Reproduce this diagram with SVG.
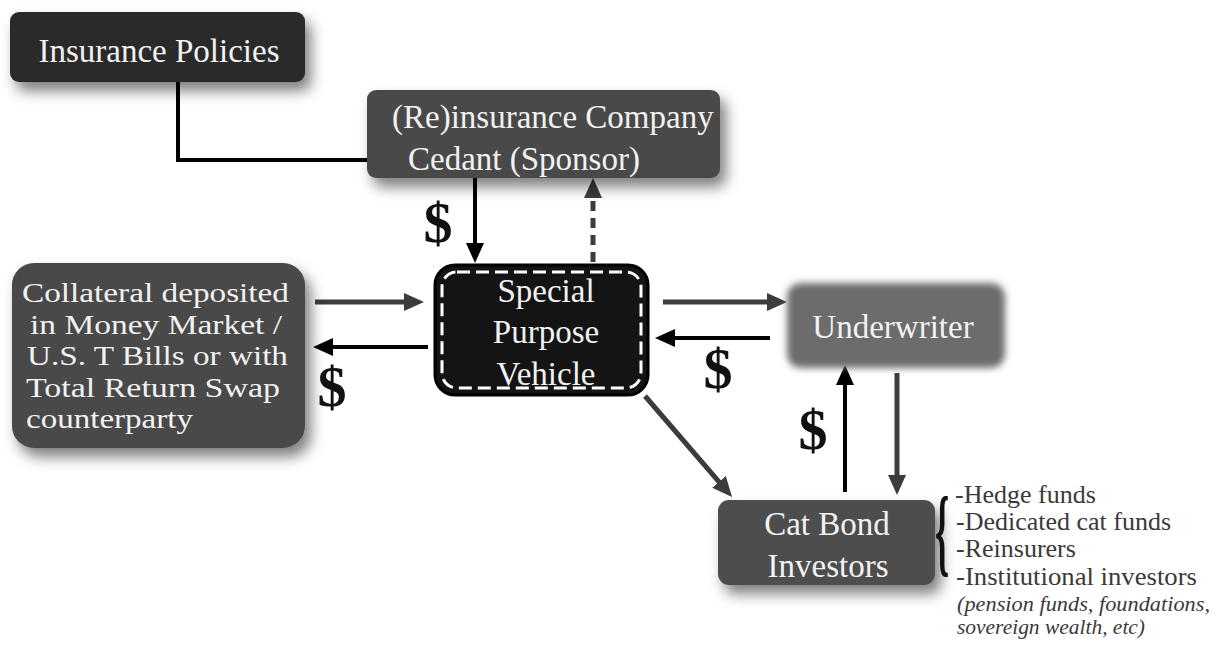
<svg xmlns="http://www.w3.org/2000/svg" width="1220" height="650" viewBox="0 0 1220 650">
<style>
.t{font-family:"Liberation Serif","Times New Roman",serif;font-size:33px;fill:#f2f2f2}
.c{font-family:"Liberation Serif","Times New Roman",serif;font-size:27.5px;fill:#f2f2f2}
.d{font-family:"Liberation Serif","Times New Roman",serif;font-size:58px;font-weight:bold;fill:#111;text-anchor:middle}
.l{font-family:"Liberation Serif","Times New Roman",serif;font-size:26px;fill:#3a3a3a}
.i{font-family:"Liberation Serif","Times New Roman",serif;font-size:21px;font-style:italic;fill:#3a3a3a}
.blk{stroke:#000;stroke-width:4;fill:none}
.gry{stroke:#3c3c3c;stroke-width:5;fill:none}
</style>
<defs>
<filter id="sh" x="-20%" y="-25%" width="150%" height="170%">
<feDropShadow dx="6" dy="9" stdDeviation="7" flood-color="#000" flood-opacity="0.5"/>
</filter>
<filter id="soft" x="-20%" y="-30%" width="150%" height="170%">
<feGaussianBlur stdDeviation="3.5"/>
</filter>
<marker id="ab" markerUnits="userSpaceOnUse" markerWidth="20" markerHeight="18" refX="4" refY="9" orient="auto">
<path d="M0,0 L20,9 L0,18 z" fill="#000"/>
</marker>
<marker id="ag" markerUnits="userSpaceOnUse" markerWidth="20" markerHeight="18" refX="4" refY="9" orient="auto">
<path d="M0,0 L20,9 L0,18 z" fill="#3c3c3c"/>
</marker>
</defs>
<rect width="1220" height="650" fill="#fff"/>

<g id="connectors">
<polyline class="blk" points="178,82 178,160 369,160"/>
<line class="blk" x1="475" y1="178" x2="475" y2="247" marker-end="url(#ab)"/>
<line class="gry" x1="593" y1="262" x2="593" y2="194" stroke-dasharray="10 7" marker-end="url(#ag)"/>
<line class="gry" x1="315" y1="302" x2="408" y2="302" marker-end="url(#ag)"/>
<line class="blk" x1="428" y1="347" x2="329" y2="347" marker-end="url(#ab)"/>
<line class="gry" x1="663" y1="302" x2="771" y2="302" marker-end="url(#ag)"/>
<line class="blk" x1="770" y1="338" x2="671" y2="338" marker-end="url(#ab)"/>
<line class="gry" x1="645" y1="396" x2="721.6" y2="484.9" marker-end="url(#ag)"/>
<line class="blk" x1="845" y1="492" x2="845" y2="381" marker-end="url(#ab)"/>
<line class="gry" x1="897" y1="373" x2="897" y2="479" marker-end="url(#ag)"/>
<text class="d" x="438" y="242">$</text>
<text class="d" x="332" y="406">$</text>
<text class="d" x="718" y="388">$</text>
<text class="d" x="813" y="449">$</text>
</g>

<g id="insurance-policies">
<rect x="10" y="12" width="295" height="70" rx="9" fill="#2b2b2b" filter="url(#sh)"/>
<text class="t" x="159" y="62" text-anchor="middle">Insurance Policies</text>
</g>

<g id="reinsurance-company">
<rect x="367" y="90" width="353" height="88" rx="9" fill="#4a4a4a" filter="url(#sh)"/>
<text class="t" x="392" y="128">(Re)insurance Company</text>
<text class="t" x="408" y="170">Cedant (Sponsor)</text>
</g>

<g id="collateral">
<rect x="12" y="263" width="293" height="185" rx="22" fill="#4a4a4a" filter="url(#sh)"/>
<text class="c" x="22" y="302" textLength="267" lengthAdjust="spacingAndGlyphs">Collateral deposited</text>
<text class="c" x="30" y="333.5" textLength="252" lengthAdjust="spacingAndGlyphs">in Money Market /</text>
<text class="c" x="27" y="365" textLength="261" lengthAdjust="spacingAndGlyphs">U.S. T Bills or with</text>
<text class="c" x="26" y="396.5" textLength="254" lengthAdjust="spacingAndGlyphs">Total Return Swap</text>
<text class="c" x="26" y="428" textLength="167" lengthAdjust="spacingAndGlyphs">counterparty</text>
</g>

<g id="spv">
<rect x="435" y="265" width="213" height="130" rx="20" fill="#141414" stroke="#000" stroke-width="3"/>
<rect x="442" y="272" width="199" height="116" rx="15" fill="none" stroke="#fff" stroke-width="3" stroke-dasharray="13 6"/>
<text class="t" x="546" y="302" text-anchor="middle">Special</text>
<text class="t" x="546" y="343" text-anchor="middle">Purpose</text>
<text class="t" x="546" y="385" text-anchor="middle">Vehicle</text>
</g>

<g id="underwriter">
<rect x="787" y="283" width="218" height="85" rx="14" fill="#6c6c6c" filter="url(#soft)"/>
<text class="t" x="893" y="338" text-anchor="middle">Underwriter</text>
</g>

<g id="cat-bond-investors">
<rect x="718" y="500" width="217" height="85" rx="11" fill="#4d4d4d" filter="url(#sh)"/>
<text class="t" x="827" y="535" text-anchor="middle">Cat Bond</text>
<text class="t" x="828" y="577" text-anchor="middle">Investors</text>
</g>

<g id="investor-list">
<text transform="scale(1,2.7)" font-family="Liberation Serif, serif" font-size="36" font-weight="bold" fill="#111" text-anchor="middle" x="942" y="209">{</text>
<text class="l" x="955" y="503">-Hedge funds</text>
<text class="l" x="956" y="530">-Dedicated cat funds</text>
<text class="l" x="956" y="557">-Reinsurers</text>
<text class="l" x="956" y="585" textLength="241" lengthAdjust="spacingAndGlyphs">-Institutional investors</text>
<text class="i" x="957" y="611" textLength="253" lengthAdjust="spacingAndGlyphs">(pension funds, foundations,</text>
<text class="i" x="957" y="634" textLength="188" lengthAdjust="spacingAndGlyphs">sovereign wealth, etc)</text>
</g>
</svg>
